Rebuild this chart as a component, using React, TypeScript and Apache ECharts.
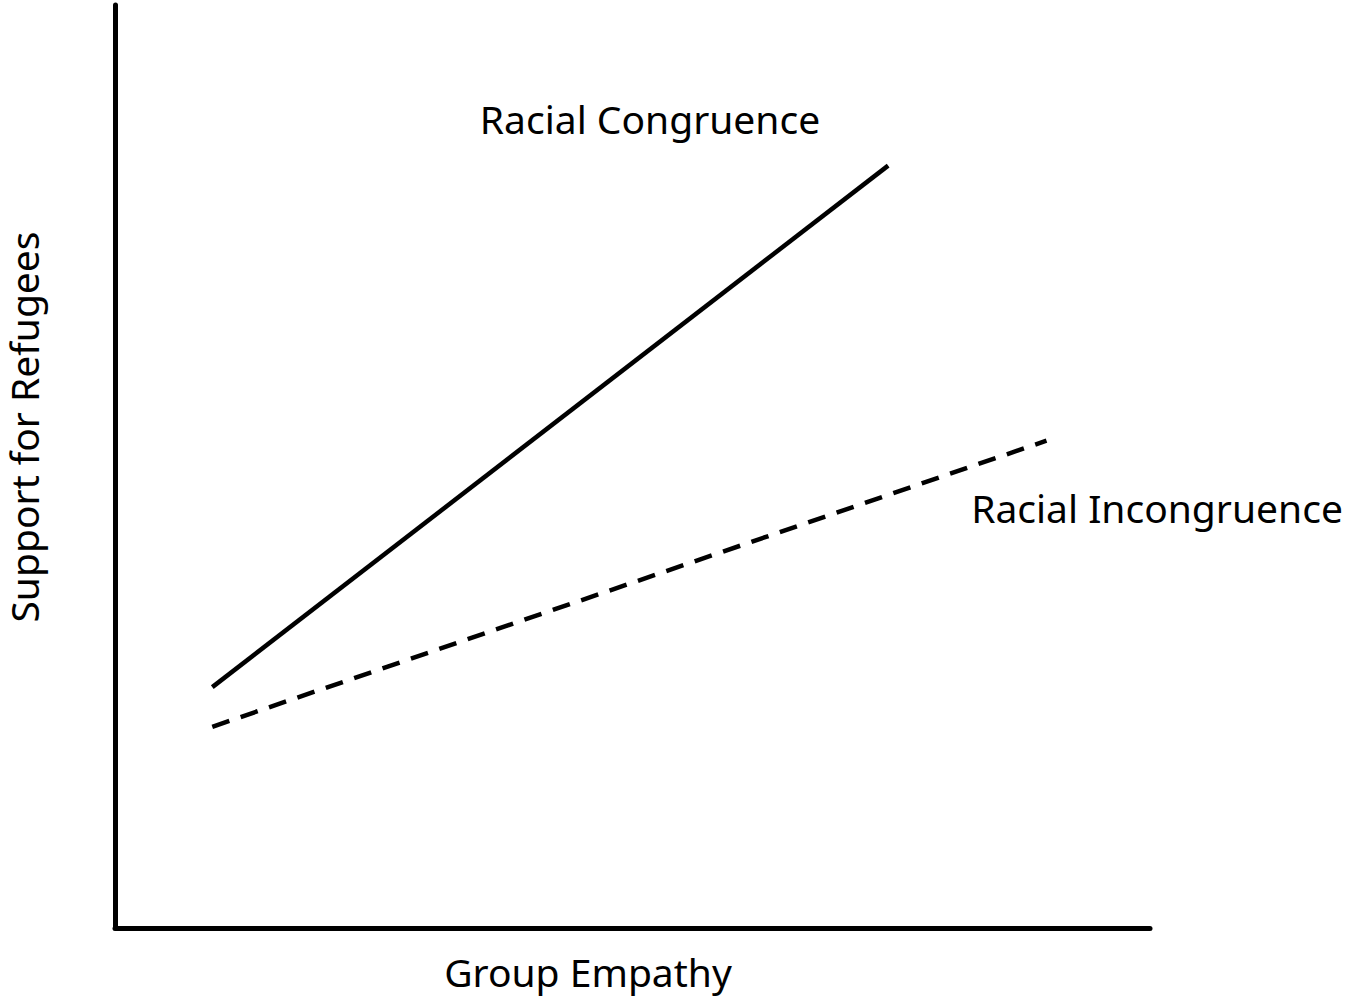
import React, { useEffect, useRef } from "react";
import * as echarts from "echarts";

const xRange = [0, 100];
const yRange = [0, 100];
const congruenceX = [9.4, 74.7];
const congruenceY = [26.1, 82.6];
const incongruenceX = [9.4, 90.0];
const incongruenceY = [21.8, 52.8];
const seriesNames = ["Racial Congruence", "Racial Incongruence"];
const xAxisTitle = "Group Empathy";
const yAxisTitle = "Support for Refugees";

const FONT = "'Noto Sans', sans-serif";
const SIZE = 39;

export default function App() {
  const ref = useRef<HTMLDivElement>(null);
  useEffect(() => {
    document.body.style.margin = "0";
    const chart = echarts.init(ref.current!, undefined, { renderer: "svg" });
    const toPairs = (xs: number[], ys: number[]) => xs.map((x, i) => [x, ys[i]]);
    const txt = (text: string) => ({
      text,
      font: `${SIZE}px ${FONT}`,
      lineHeight: 40,
      fill: "#000",
      textAlign: "center",
      textVerticalAlign: "middle",
    });
    chart.setOption({
      animation: false,
      backgroundColor: "#ffffff",
      grid: { left: 115, right: 198, top: 5, bottom: 71 },
      xAxis: {
        type: "value",
        min: xRange[0],
        max: xRange[1],
        axisLine: { show: true, lineStyle: { color: "#000", width: 5 } },
        axisTick: { show: false },
        axisLabel: { show: false },
        splitLine: { show: false },
      },
      yAxis: {
        type: "value",
        min: yRange[0],
        max: yRange[1],
        axisLine: { show: true, lineStyle: { color: "#000", width: 5 } },
        axisTick: { show: false },
        axisLabel: { show: false },
        splitLine: { show: false },
      },
      series: [
        {
          name: seriesNames[0],
          type: "line",
          data: toPairs(congruenceX, congruenceY),
          symbol: "none",
          lineStyle: { color: "#000", width: 4.5, type: "solid" },
        },
        {
          name: seriesNames[1],
          type: "line",
          data: toPairs(incongruenceX, incongruenceY),
          symbol: "none",
          lineStyle: { color: "#000", width: 4.5, type: [18, 12] },
        },
      ],
      graphic: [
        { type: "text", x: 650, y: 118, style: txt(seriesNames[0]) },
        { type: "text", x: 1157, y: 507, style: txt(seriesNames[1]) },
        { type: "text", x: 588, y: 971, style: txt(xAxisTitle) },
        { type: "text", x: 23, y: 427, rotation: Math.PI / 2, style: txt(yAxisTitle) },
      ],
    });
    return () => chart.dispose();
  }, []);
  return <div ref={ref} style={{ width: 1348, height: 999 }} />;
}
